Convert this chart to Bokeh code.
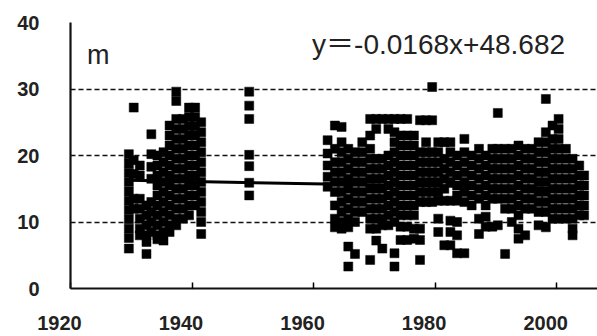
from bokeh.plotting import figure
from bokeh.models import ColumnDataSource, FixedTicker, Label
from bokeh.embed import file_html
from bokeh.resources import INLINE

# ---- data ----
years_1930s = [1929.6, 1930.4, 1931.4, 1932.5, 1933.3, 1934.3, 1935.3, 1936.3,
               1937.4, 1938.5, 1939.5, 1940.5, 1941.5]
vals_1930s = [
    [20.2, 18.8, 17.4, 16.0, 14.6, 13.2, 11.8, 10.4, 9.0, 7.6, 6.0],
    [27.2, 19.3, 17.2, 13.5, 12.0],
    [18.5, 17.0, 13.5, 12.0, 10.5, 9.0, 8.0],
    [12.5, 11.0, 9.5, 8.0, 7.0, 5.2],
    [23.2, 20.2, 18.3, 16.5, 13.0, 11.5, 10.0, 8.5],
    [20.0, 18.5, 17.0, 15.5, 14.0, 12.5, 11.0, 9.5, 8.0, 7.4],
    [20.5, 19.0, 17.5, 16.0, 14.5, 13.0, 11.5, 10.0, 8.5, 7.2],
    [24.5, 23.0, 21.5, 20.0, 18.5, 17.0, 15.5, 14.0, 12.5, 11.0, 9.5, 8.5],
    [29.6, 28.2, 25.5, 24.0, 22.5, 21.0, 19.5, 18.0, 16.5, 15.0, 13.5, 12.0, 10.5, 9.5],
    [25.5, 24.0, 22.5, 21.0, 19.5, 18.0, 16.5, 15.0, 13.5, 12.0, 10.5],
    [27.2, 25.8, 24.4, 23.0, 21.5, 20.0, 18.5, 17.0, 15.5, 14.0, 12.5, 11.0],
    [27.2, 25.8, 24.4, 23.0, 21.5, 20.0, 18.5, 17.0, 15.5, 14.0, 12.5],
    [25.0, 23.5, 22.0, 20.5, 19.0, 17.5, 16.0, 14.5, 13.0, 11.5, 10.0, 8.2],
]

years_1950 = [1949.4]
vals_1950 = [[29.6, 27.5, 25.5, 20.1, 18.4, 15.9, 14.0]]

years_6080 = [1962.3, 1963.5, 1964.6, 1965.7, 1966.8, 1968.0, 1969.3, 1970.3,
              1971.3, 1972.3, 1973.3, 1974.3, 1975.4, 1976.5, 1977.5, 1978.5,
              1979.5, 1980.5, 1981.5, 1982.5, 1983.6, 1984.8, 1986.0]
vals_6080 = [
    [22.3, 20.3, 18.5, 16.8, 15.3],
    [24.5, 21.0, 19.0, 17.5, 16.0, 14.5, 12.5, 10.5, 9.2],
    [24.3, 22.0, 20.5, 19.0, 17.5, 16.0, 14.5, 13.0, 11.5, 10.0, 9.0],
    [21.0, 19.5, 18.0, 16.5, 15.0, 13.5, 12.0, 10.5, 9.2, 6.3, 3.3],
    [20.5, 19.0, 17.5, 16.0, 14.5, 13.0, 11.5, 10.0, 5.2],
    [22.0, 20.5, 19.0, 17.5, 16.0, 14.5, 13.0, 11.5],
    [25.5, 23.0, 21.0, 19.5, 18.0, 16.5, 15.0, 13.5, 12.0, 10.5, 9.0, 4.3],
    [25.5, 24.0, 19.5, 18.0, 16.5, 15.0, 13.5, 12.0, 10.5, 9.0, 7.2],
    [25.5, 19.5, 18.0, 16.5, 15.0, 13.5, 12.0, 10.5, 9.5, 6.0],
    [25.5, 24.0, 20.0, 18.5, 17.0, 15.5, 14.0, 12.5, 11.0, 9.5],
    [25.5, 23.5, 22.0, 20.5, 19.0, 17.5, 16.0, 14.5, 13.0, 11.5, 10.0, 5.3, 3.3],
    [25.5, 23.0, 21.5, 20.0, 18.5, 17.0, 15.5, 14.0, 12.5, 11.0, 9.3, 7.3],
    [25.5, 23.0, 21.5, 20.0, 18.5, 17.0, 15.5, 14.0, 12.5, 11.0, 9.3, 7.3],
    [23.0, 21.5, 20.0, 18.5, 17.0, 15.5, 14.0, 12.5, 11.0, 9.0, 7.5],
    [25.3, 20.5, 19.0, 17.5, 16.0, 14.5, 13.0, 9.0, 7.3, 4.3],
    [25.3, 22.0, 20.5, 19.0, 17.5, 16.0, 14.5, 13.0],
    [30.3, 25.3, 20.5, 19.0, 17.5, 16.0, 14.5, 13.0],
    [22.0, 20.5, 19.0, 17.5, 16.0, 14.5, 13.2, 10.5, 8.5],
    [22.0, 19.5, 18.0, 16.5, 15.0, 13.2, 6.5],
    [22.0, 20.5, 19.0, 17.5, 16.0, 13.2, 10.2, 8.5, 6.5],
    [20.0, 18.5, 17.0, 15.5, 14.0, 13.2, 10.0, 8.0, 5.3],
    [22.5, 20.5, 19.0, 17.5, 16.0, 14.5, 13.0, 5.3],
    [20.0, 18.5, 17.0, 15.5, 14.0, 12.5],
]

years_8805 = [1987.2, 1988.3, 1989.4, 1990.3, 1991.5, 1992.6, 1993.7, 1994.8,
              1995.9, 1997.0, 1998.2, 1999.3, 2000.3, 2001.5, 2002.6, 2003.7, 2004.5]
vals_8805 = [
    [21.0, 19.5, 18.0, 16.5, 15.0, 13.5, 10.5, 8.2],
    [20.0, 18.5, 17.0, 15.5, 14.0, 12.5, 10.8, 9.3],
    [21.0, 19.5, 18.0, 16.5, 15.0, 13.5, 9.3],
    [26.4, 21.0, 19.5, 18.0, 16.5, 15.0, 13.5, 9.5],
    [21.0, 19.5, 18.0, 16.5, 15.0, 13.5, 12.0, 5.2],
    [21.0, 19.5, 18.0, 16.5, 15.0, 13.5, 12.0, 10.0],
    [21.5, 20.0, 18.5, 17.0, 15.5, 14.0, 12.5, 11.0, 9.0, 7.5],
    [21.0, 19.5, 18.0, 16.5, 15.0, 13.5, 12.0, 8.0],
    [21.0, 19.5, 18.0, 16.5, 15.0, 13.5, 12.0],
    [22.0, 20.5, 19.0, 17.5, 16.0, 14.5, 13.0, 11.5, 9.5],
    [28.5, 23.5, 22.0, 20.5, 19.0, 17.5, 16.0, 14.5, 13.0, 11.5, 9.2],
    [24.5, 22.5, 21.0, 19.5, 18.0, 16.5, 15.0, 13.5, 12.0, 10.5],
    [25.5, 24.0, 22.5, 21.0, 19.5, 18.0, 16.5, 15.0, 13.5, 12.0, 10.5],
    [21.0, 19.5, 18.0, 16.5, 15.0, 13.5, 12.0, 10.5],
    [19.5, 18.0, 16.5, 15.0, 13.5, 12.0, 10.5, 9.0, 8.0],
    [18.5, 17.0, 15.5, 14.0, 12.5, 11.0],
    [17.0, 15.5, 14.0, 12.5, 11.0],
]

trend_slope = -0.0168
trend_intercept = 48.682
equation_text = "y\uff1d-0.0168x+48.682"
unit_text = "m"

x_ticks = [1920, 1940, 1960, 1980, 2000]
y_ticks = [0, 10, 20, 30, 40]

# ---- flatten ----
xs, ys = [], []
for yrs, vls in ((years_1930s, vals_1930s), (years_1950, vals_1950),
                 (years_6080, vals_6080), (years_8805, vals_8805)):
    for yr, col in zip(yrs, vls):
        for v in col:
            xs.append(yr)
            ys.append(v)

src = ColumnDataSource(dict(x=xs, y=ys))

p = figure(width=597, height=336, x_range=(1920, 2006.7), y_range=(0, 40),
           output_backend="svg", toolbar_location=None,
           min_border_left=70, min_border_right=0, min_border_top=22,
           min_border_bottom=47)
p.outline_line_color = None
p.background_fill_color = "white"
p.border_fill_color = "white"

p.xgrid.grid_line_color = None
p.ygrid.ticker = FixedTicker(ticks=[10, 20, 30, 40])
p.ygrid.grid_line_color = "#111111"
p.ygrid.grid_line_dash = "5 3"
p.ygrid.grid_line_width = 1.6

NUM_FONT = "'Liberation Sans Narrow', 'Liberation Sans', sans-serif"

p.yaxis.ticker = FixedTicker(ticks=y_ticks)
p.yaxis.major_tick_out = 0
p.yaxis.major_tick_in = 0
p.yaxis.minor_tick_out = 0
p.yaxis.minor_tick_in = 0
p.yaxis.axis_line_width = 2.2
p.yaxis.axis_line_color = "#111111"
p.yaxis.major_label_standoff = 31
p.yaxis.major_label_text_font = NUM_FONT
p.yaxis.major_label_text_font_style = "bold"
p.yaxis.major_label_text_font_size = "20px"
p.yaxis.major_label_text_color = "#222222"

# x axis: labels padded with no-break spaces so they sit a little left of the ticks
p.xaxis.ticker = FixedTicker(ticks=x_ticks)
p.xaxis.major_label_overrides = {t: str(t) + "\u00a0" * 4 for t in x_ticks}
p.xaxis.major_tick_out = 0
p.xaxis.major_tick_in = 6
p.xaxis.major_tick_line_width = 1.5
p.xaxis.minor_tick_out = 0
p.xaxis.minor_tick_in = 0
p.xaxis.axis_line_width = 2.2
p.xaxis.axis_line_color = "#111111"
p.xaxis.major_label_standoff = 23
p.xaxis.major_label_text_font = NUM_FONT
p.xaxis.major_label_text_font_style = "bold"
p.xaxis.major_label_text_font_size = "20px"
p.xaxis.major_label_text_color = "#222222"

# trend line over data span
x0, x1 = min(xs), max(xs)
p.line([x0, x1], [trend_slope * x0 + trend_intercept, trend_slope * x1 + trend_intercept],
       line_color="black", line_width=3)

p.scatter("x", "y", source=src, marker="square", size=9,
          fill_color="black", line_color="black", line_width=0.5)

p.add_layout(Label(x=1922.7, y=35.1, text=unit_text, text_font="Liberation Sans",
                   text_font_size="27px", text_color="#222222",
                   text_baseline="alphabetic"))
p.add_layout(Label(x=1959.75, y=36.7, text=equation_text,
                   text_font="'Liberation Sans', 'Noto Sans CJK JP'",
                   text_font_size="28px", text_color="#222222",
                   text_baseline="alphabetic"))

open("out.html", "w").write(file_html(p, INLINE))
